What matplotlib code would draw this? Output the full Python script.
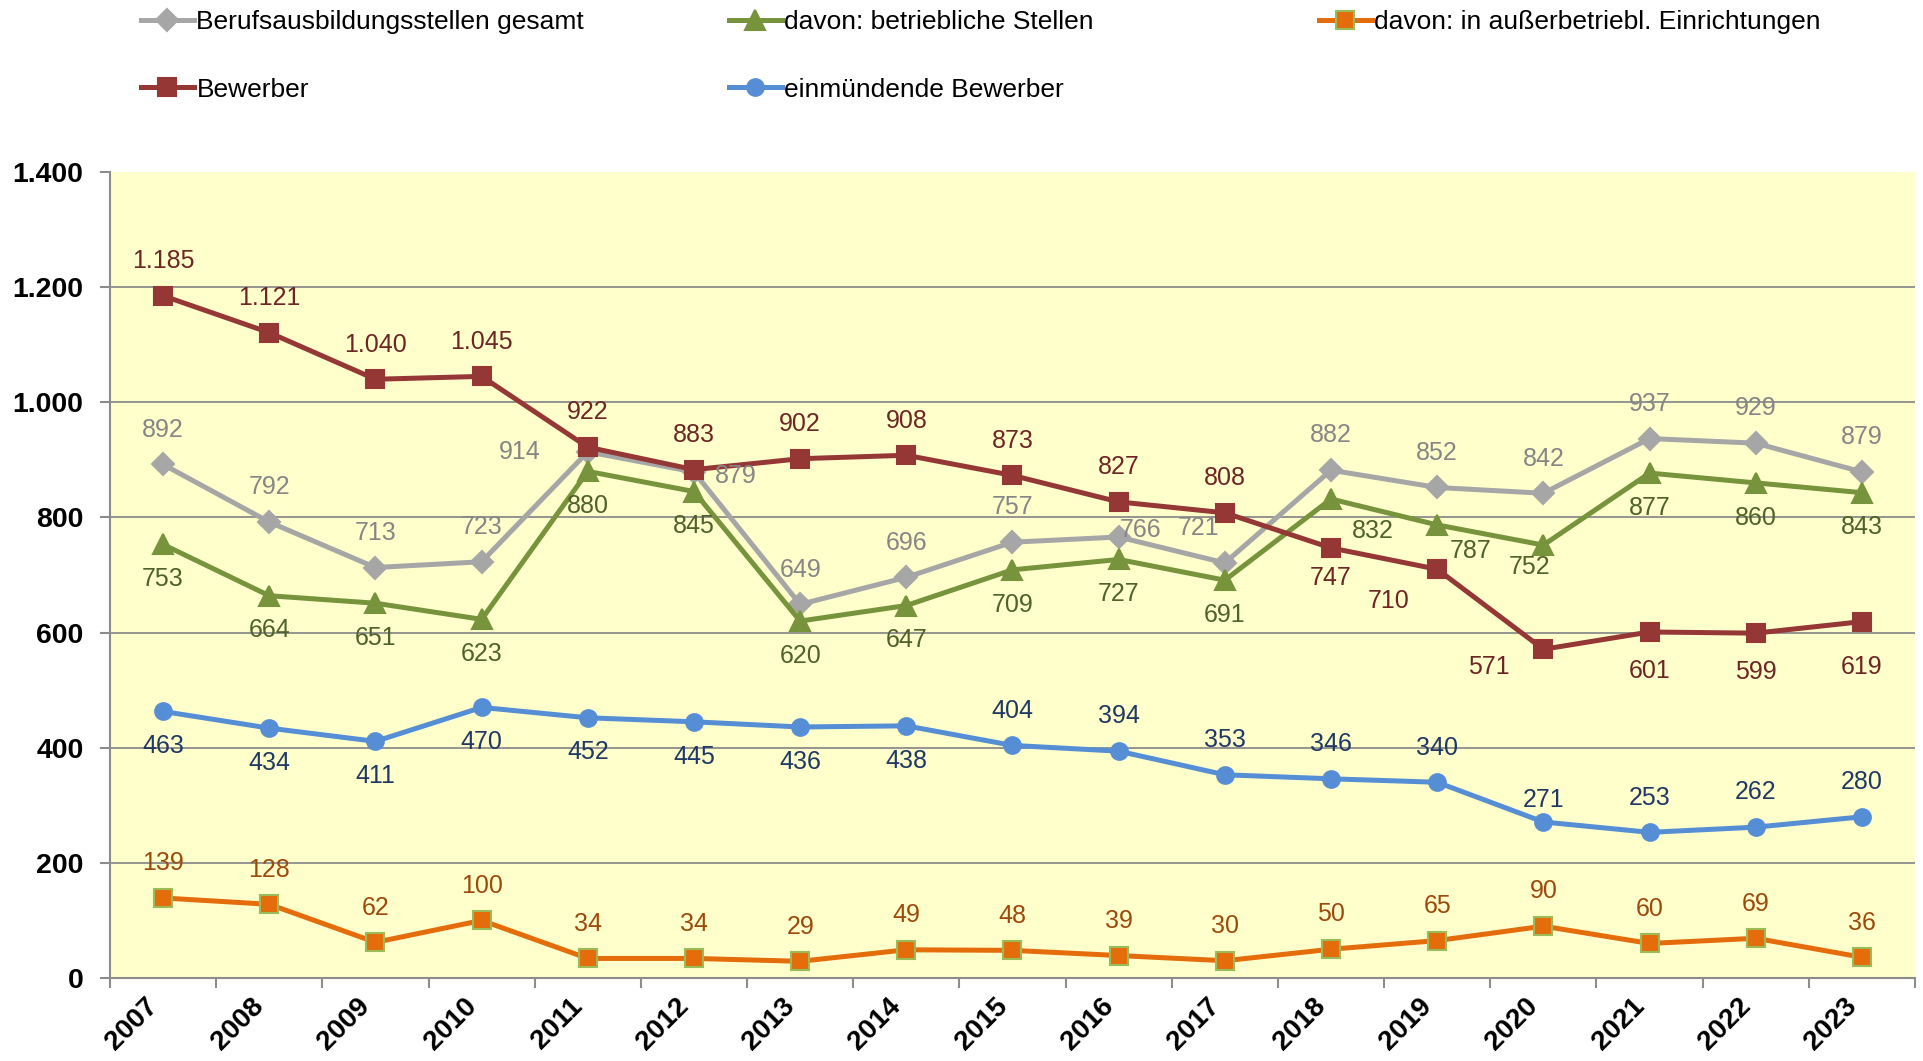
import numpy as np
import matplotlib
matplotlib.use("Agg")
import matplotlib.pyplot as plt
import matplotlib.transforms as mtransforms

plt.rcParams['font.family'] = ['Liberation Sans', 'DejaVu Sans']

jahre = ['2007', '2008', '2009', '2010', '2011', '2012', '2013', '2014', '2015',
         '2016', '2017', '2018', '2019', '2020', '2021', '2022', '2023']
gesamt = [892, 792, 713, 723, 914, 879, 649, 696, 757, 766, 721, 882, 852, 842, 937, 929, 879]
betrieblich = [753, 664, 651, 623, 880, 845, 620, 647, 709, 727, 691, 832, 787, 752, 877, 860, 843]
ausserbetr = [139, 128, 62, 100, 34, 34, 29, 49, 48, 39, 30, 50, 65, 90, 60, 69, 36]
bewerber = [1185, 1121, 1040, 1045, 922, 883, 902, 908, 873, 827, 808, 747, 710, 571, 601, 599, 619]
einmuendend = [463, 434, 411, 470, 452, 445, 436, 438, 404, 394, 353, 346, 340, 271, 253, 262, 280]
yticks = [0, 200, 400, 600, 800, 1000, 1200, 1400]

namen = ['Berufsausbildungsstellen gesamt', 'davon: betriebliche Stellen',
         'davon: in außerbetriebl. Einrichtungen', 'Bewerber', 'einmündende Bewerber']

# label offsets (points)
A, B = (0, 25), (0, -25)
off_gesamt = [A, A, A, A, (-48, 0), (29, -3), A, A, A, (16, 5), (-19, 25), A, A, A, A, A, A]
off_betr = [B] * 11 + [(29, -23), (23, -19), (-10, -16), B, B, B]
off_aus = [A] * 17
off_bew = [A] * 11 + [(0, -22), (-34, -23), (-38, -13), (0, -28), (0, -28), (0, -33)]
off_ein = [B] * 8 + [A] * 5 + [(0, 16), A, A, A]

def fmt(v):
    return f"{v:,}".replace(',', '.')

fig = plt.figure(figsize=(19.24, 10.61), dpi=100)
ax = fig.add_axes([110/1924, 1 - 978/1061, 1805/1924, 806/1061])
ax.set_facecolor('#FFFFCC')

x = np.arange(len(jahre))
serien = [
    (gesamt, '#A6A6A6', 'D', 11, '#A6A6A6', '#868686', off_gesamt),
    (betrieblich, '#77933C', '^', 14, '#77933C', '#4F6228', off_betr),
    (ausserbetr, '#E46C0A', 's', 13, '#9BBB59', '#9C4A0C', off_aus),
    (bewerber, '#953735', 's', 13, '#953735', '#6E2624', off_bew),
    (einmuendend, '#558ED5', 'o', 12, '#558ED5', '#1F3864', off_ein),
]
handles = []
for (vals, col, mk, ms, ec, lc, offs), name in zip(serien, namen):
    h, = ax.plot(x, vals, color=col, lw=3.6, marker=mk, ms=ms, mfc=col, mec=ec,
                 mew=1.5, label=name, zorder=3)
    handles.append(h)
    for i, v in enumerate(vals):
        dx, dy = offs[i]
        ha = 'center' if abs(dx) < 20 else ('left' if dx > 0 else 'right')
        if ha == 'left':
            dx -= 14
        elif ha == 'right':
            dx += 14
        ax.annotate(fmt(v), (i, v), xytext=(dx, dy), textcoords='offset points',
                    ha=ha, va='center', fontsize=18, color=lc, zorder=4)

for t in yticks[1:-1]:
    ax.axhline(t, color='#8C8C8C', lw=1.3, zorder=1)

ax.set_xlim(-0.5, len(jahre) - 0.5)
ax.set_ylim(0, 1400)
ax.set_yticks(yticks)
ax.set_yticklabels([fmt(t) for t in yticks], fontsize=20.5, fontweight='bold')
ax.set_xticks(np.arange(len(jahre) + 1) - 0.5)
ax.set_xticklabels([])
ax.set_xticks(x, minor=True)
ax.set_xticklabels(jahre, minor=True, rotation=45, ha='right', va='top',
                   fontsize=20, fontweight='bold')
shift = mtransforms.ScaledTranslation(6/100, 0, fig.dpi_scale_trans)
for lab in ax.get_xticklabels(minor=True):
    lab.set_transform(lab.get_transform() + shift)
ax.tick_params(axis='x', which='minor', length=0, pad=11)
ax.tick_params(axis='x', which='major', length=7, width=1.5, color='#8C8C8C', direction='out')
ax.tick_params(axis='y', length=7, width=1.5, color='#8C8C8C', pad=12)
for s in ['top', 'right']:
    ax.spines[s].set_visible(False)
for s in ['left', 'bottom']:
    ax.spines[s].set_color('#8C8C8C')
    ax.spines[s].set_linewidth(1.5)

spalten = [([handles[0], handles[3]], 141), ([handles[1], handles[4]], 729), ([handles[2]], 1319)]
for hs, px in spalten:
    fig.legend(handles=hs, loc='upper left', bbox_to_anchor=(px/1924, 1 - 10/1061),
               frameon=False, fontsize=19, handlelength=2.0, handletextpad=0.1,
               labelspacing=1.65, borderpad=0, borderaxespad=0)

fig.savefig('out.png', dpi=100)
